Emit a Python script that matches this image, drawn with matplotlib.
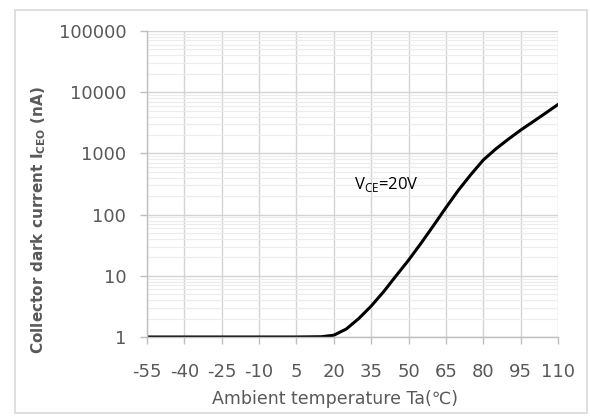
import matplotlib
matplotlib.use("Agg")
import matplotlib.pyplot as plt
from matplotlib.ticker import FixedLocator, LogLocator, NullFormatter, FixedFormatter
from matplotlib.patches import Rectangle

temps = [-55, -40, -25, -10, 5, 15, 20, 25, 30, 35, 40, 45, 50, 55, 60,
         65, 70, 75, 80, 85, 90, 95, 100, 105, 110]
dark_current = [1, 1, 1, 1, 1, 1.01, 1.07, 1.35, 2.0, 3.2, 5.5, 10, 18, 34, 66,
                130, 250, 450, 780, 1180, 1700, 2400, 3300, 4550, 6300]
x_ticks = [-55, -40, -25, -10, 5, 20, 35, 50, 65, 80, 95, 110]
y_ticks = [1, 10, 100, 1000, 10000, 100000]
y_tick_labels = ["1", "10", "100", "1000", "10000", "100000"]
annotation = "V$_{\\mathrm{CE}}$=20V"

plt.rcParams['font.family'] = ['DejaVu Sans']
plt.rcParams['axes.unicode_minus'] = False
plt.rcParams['mathtext.fontset'] = 'custom'
plt.rcParams['mathtext.rm'] = 'Open Sans'
plt.rcParams['mathtext.bf'] = 'DejaVu Sans:bold'

fig = plt.figure(figsize=(5.90, 4.16), dpi=100)
fig.patches.append(Rectangle((15 / 590, 1 - 413 / 416), 572 / 590, 403 / 416,
                             transform=fig.transFigure, fill=False,
                             edgecolor='#d9d9d9', linewidth=1.2))
ax = fig.add_axes([147 / 590, 1 - 337 / 416, 411 / 590, 306 / 416])

ax.set_yscale('log')
ax.set_xlim(-55, 110)
ax.set_ylim(1, 100000)

ax.yaxis.set_major_locator(FixedLocator(y_ticks))
ax.yaxis.set_major_formatter(FixedFormatter(y_tick_labels))
ax.yaxis.set_minor_locator(LogLocator(base=10, subs=range(2, 10)))
ax.yaxis.set_minor_formatter(NullFormatter())
ax.xaxis.set_major_locator(FixedLocator(x_ticks))

ax.grid(which='major', color='#d4d4d4', linewidth=1.0)
ax.grid(which='minor', axis='y', color='#ececec', linewidth=0.8)
ax.set_axisbelow(True)

for s in ['top', 'right']:
    ax.spines[s].set_visible(False)
for s in ['left', 'bottom']:
    ax.spines[s].set_color('#bfbfbf')
    ax.spines[s].set_linewidth(1.0)

ax.tick_params(axis='both', which='major', colors='#bfbfbf', length=5,
               width=1.0, labelcolor='#595959', labelsize=13)
ax.tick_params(axis='y', which='minor', length=0)
ax.tick_params(axis='x', pad=14)
ax.tick_params(axis='y', pad=10)

ax.plot(temps, dark_current, color='black', linewidth=2.2, solid_capstyle='round',
        solid_joinstyle='round')

ax.text(28, 258, annotation, fontsize=12, color='black', family='Open Sans',
        va='baseline')

ax.set_xlabel("Ambient temperature Ta(\u2103)", fontsize=12.5, color='#595959')
ax.xaxis.set_label_coords((335 - 147) / 411, (337 - 390) / 306)
ax.set_ylabel("Collector dark current I$_{\\mathbf{CEO}}$ (nA)", fontsize=11,
              color='#595959', fontweight='bold')
ax.yaxis.set_label_coords((48 - 147) / 411, (337 - 220) / 306)

fig.savefig("out.png", dpi=100)
